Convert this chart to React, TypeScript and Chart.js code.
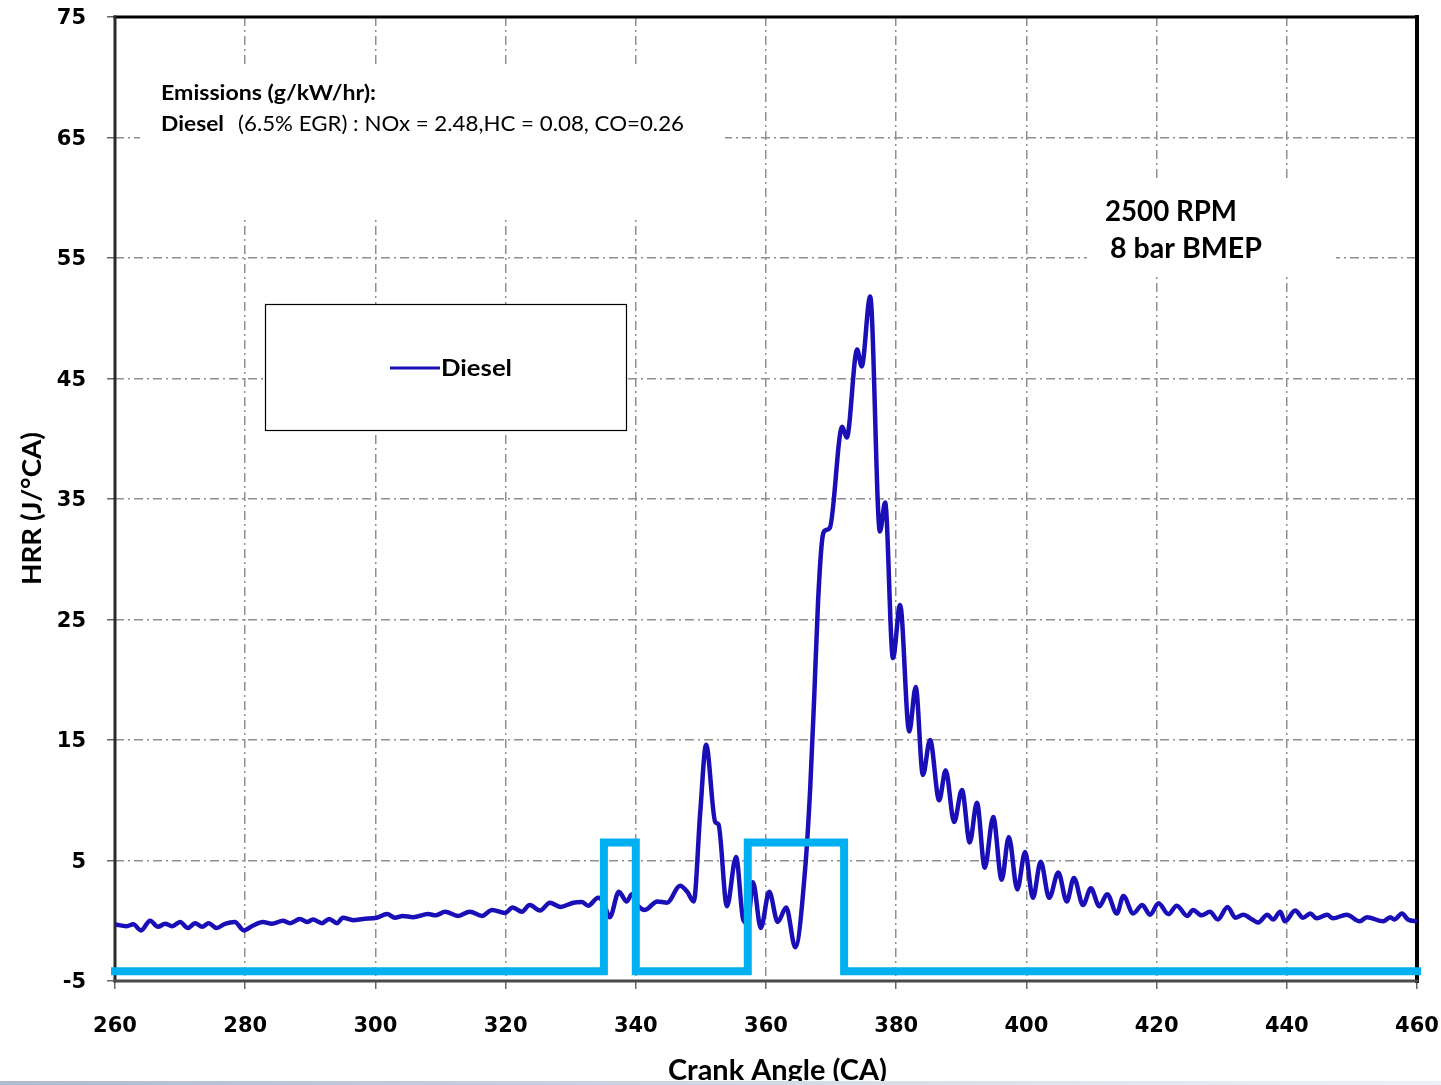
import React, { useEffect, useRef } from "react";
import { Chart, registerables } from "chart.js";

Chart.register(...registerables);

// Heat release rate, J/°CA, against crank angle
const crankAngle = [
  260.0, 261.8, 262.8, 264.0, 265.4, 266.6, 267.7, 268.8, 270.0, 271.2,
  272.3, 273.4, 274.4, 275.6, 276.9, 278.4, 279.8, 281.2, 282.7, 284.1,
  285.8, 286.9, 288.4, 289.5, 290.4, 291.8, 292.9, 294.1, 295.0, 296.6,
  298.1, 300.2, 301.8, 303.0, 304.2, 305.8, 308.1, 309.3, 310.7, 312.7,
  314.5, 316.4, 317.9, 319.9, 321.1, 322.5, 323.7, 325.3, 326.8, 328.4,
  330.4, 331.7, 332.7, 334.2, 335.0, 336.0, 337.4, 338.6, 339.4, 340.4,
  341.4, 343.3, 344.8, 346.8, 347.9, 348.9, 349.9, 350.8, 352.2, 352.7,
  354.0, 355.4, 356.5, 357.2, 358.0, 359.2, 360.5, 361.8, 363.1, 364.5,
  366.0, 366.8, 367.4, 368.0, 368.6, 369.1, 369.8, 371.7, 372.4, 374.0,
  374.7, 376.0, 377.5, 378.3, 379.5, 380.6, 382.0, 383.0, 384.1, 385.2,
  386.6, 387.6, 388.9, 390.1, 391.3, 392.4, 393.6, 394.9, 396.2, 397.3,
  398.6, 399.8, 401.0, 402.2, 403.5, 404.9, 406.2, 407.3, 408.7, 409.9,
  411.2, 412.4, 413.9, 414.9, 416.4, 417.8, 419.0, 420.3, 421.8, 423.1,
  424.7, 425.6, 426.9, 428.2, 429.4, 430.9, 432.1, 433.3, 434.7, 435.6,
  437.0, 437.9, 439.0, 439.7, 441.3, 442.5, 443.6, 444.6, 446.2, 447.1,
  449.2, 451.2, 452.3, 454.8, 455.9, 456.5, 457.7, 458.6, 460.0,
];

const hrrDiesel = [
  -0.3, -0.45, -0.3, -0.8, 0.0, -0.5, -0.25, -0.45, -0.1, -0.6,
  -0.2, -0.5, -0.2, -0.6, -0.25, -0.1, -0.8, -0.4, -0.1, -0.25,
  0.0, -0.2, 0.15, -0.1, 0.1, -0.2, 0.15, -0.2, 0.25, 0.05,
  0.15, 0.25, 0.55, 0.25, 0.4, 0.3, 0.55, 0.45, 0.75, 0.4,
  0.75, 0.4, 0.9, 0.65, 1.1, 0.75, 1.3, 0.85, 1.5, 1.15,
  1.5, 1.55, 1.25, 1.9, 1.6, 0.3, 2.4, 1.6, 2.2, 1.2,
  0.9, 1.6, 1.5, 2.9, 2.4, 1.6, 9.0, 14.6, 8.2, 8.0,
  1.2, 5.3, 0.1, -0.2, 3.2, -0.6, 2.4, -0.1, 1.1, -2.2,
  4.2, 11.1, 18.5, 26.5, 31.5, 32.4, 32.6, 41.0, 40.1, 47.4,
  46.0, 51.8, 32.3, 34.7, 21.8, 26.2, 15.7, 19.4, 12.1, 15.0,
  10.0, 12.5, 8.2, 10.85, 6.5, 9.8, 4.4, 8.6, 3.4, 6.95,
  2.6, 5.7, 1.9, 4.9, 1.9, 4.0, 1.6, 3.55, 1.3, 2.7,
  1.2, 2.2, 0.6, 2.05, 0.6, 1.3, 0.5, 1.45, 0.55, 1.25,
  0.4, 0.9, 0.45, 0.75, 0.1, 1.15, 0.25, 0.5, 0.1, -0.15,
  0.5, 0.1, 0.75, -0.05, 0.85, 0.25, 0.6, 0.2, 0.5, 0.2,
  0.5, -0.05, 0.3, -0.05, 0.3, 0.1, 0.6, 0.1, -0.05,
];

// Injector signal (pilot and main pulses)
const injectionAngle = [260, 335.1, 335.1, 340.0, 340.0, 357.2, 357.2, 372.0, 372.0, 460];
const injectionSignal = [-4.2, -4.2, 6.5, 6.5, -4.2, -4.2, 6.5, 6.5, -4.2, -4.2];

const xTickValues = [260, 280, 300, 320, 340, 360, 380, 400, 420, 440, 460];
const yTickValues = [-5, 5, 15, 25, 35, 45, 55, 65, 75];

const seriesName = "Diesel";
const xTitle = "Crank Angle (CA)";
const yTitle = "HRR (J/°CA)";
const emissionsHeading = "Emissions (g/kW/hr):";
const emissionsFuel = "Diesel";
const emissionsValues = "(6.5% EGR) : NOx = 2.48,HC = 0.08, CO=0.26";
const operatingPoint = ["2500 RPM", "8 bar BMEP"];

const HRR_COLOR = "#1a0fb6";
const INJ_COLOR = "#00b0f0";
const GRID_COLOR = "#8f8f8f";
const TICK_FONT = { family: "'DejaVu Sans'", weight: "bold" as const, size: 21 };

// Draws text stretched or squeezed to an exact width.
function fitText(
  ctx: CanvasRenderingContext2D,
  text: string,
  x: number,
  y: number,
  width: number,
  font: string
) {
  ctx.save();
  ctx.font = font;
  ctx.textAlign = "left";
  ctx.textBaseline = "alphabetic";
  const w = ctx.measureText(text).width;
  ctx.translate(x, y);
  ctx.scale(width / w, 1);
  ctx.fillText(text, 0, 0);
  ctx.restore();
}

const decorPlugin = {
  id: "decor",
  beforeDatasetsDraw(chart: Chart) {
    const { ctx, chartArea: a } = chart;
    ctx.save();

    // white panels that sit over the grid
    ctx.fillStyle = "#ffffff";
    ctx.fillRect(140, 67, 585, 153);
    ctx.fillRect(1087, 182, 249, 93);
    ctx.fillRect(265, 304, 362, 127);
    ctx.strokeStyle = "#000000";
    ctx.lineWidth = 1.2;
    ctx.strokeRect(265.5, 304.5, 361, 126);

    // plot frame
    ctx.lineCap = "square";
    ctx.strokeStyle = "#000000";
    ctx.lineWidth = 3;
    ctx.beginPath();
    ctx.moveTo(a.left, a.top);
    ctx.lineTo(a.right, a.top);
    ctx.stroke();
    ctx.lineWidth = 4;
    ctx.beginPath();
    ctx.moveTo(a.right, a.top);
    ctx.lineTo(a.right, a.bottom);
    ctx.stroke();
    ctx.strokeStyle = "#2a2a2a";
    ctx.lineWidth = 3;
    ctx.beginPath();
    ctx.moveTo(a.left, a.top);
    ctx.lineTo(a.left, a.bottom);
    ctx.stroke();
    ctx.strokeStyle = "#4a4a4a";
    ctx.beginPath();
    ctx.moveTo(a.left, a.bottom);
    ctx.lineTo(a.right, a.bottom);
    ctx.stroke();

    // notes
    ctx.fillStyle = "#000000";
    fitText(ctx, emissionsHeading, 161, 100, 215, "bold 21px Lato");
    fitText(ctx, emissionsFuel, 161, 131, 63, "bold 21px Lato");
    fitText(ctx, emissionsValues, 238, 131, 446, "21px Lato");
    fitText(ctx, operatingPoint[0], 1105, 221, 132, "bold 28px Lato");
    fitText(ctx, operatingPoint[1], 1110, 258, 152, "bold 28px Lato");

    // legend
    ctx.strokeStyle = HRR_COLOR;
    ctx.lineWidth = 3;
    ctx.lineCap = "butt";
    ctx.beginPath();
    ctx.moveTo(390, 368);
    ctx.lineTo(440, 368);
    ctx.stroke();
    fitText(ctx, seriesName, 441, 376, 71, "bold 23px Lato");

    // axis titles
    fitText(ctx, xTitle, 668, 1080, 219, "bold 29px Lato");
    ctx.save();
    ctx.translate(41, 585);
    ctx.rotate(-Math.PI / 2);
    fitText(ctx, yTitle, 0, 0, 153, "bold 26px Lato");
    ctx.restore();

    // soft strip along the foot of the figure
    const g = ctx.createLinearGradient(0, 0, 1441, 0);
    g.addColorStop(0, "#aebbd0");
    g.addColorStop(0.6, "#d5dde8");
    g.addColorStop(1, "#eef2f7");
    ctx.fillStyle = g;
    ctx.fillRect(0, 1081, 1441, 4);

    ctx.restore();
  },
};

export default function App() {
  const canvasRef = useRef<HTMLCanvasElement | null>(null);

  useEffect(() => {
    document.body.style.margin = "0";
    const canvas = canvasRef.current;
    if (!canvas) return;

    const hrrPoints = crankAngle.map((x, i) => ({ x, y: hrrDiesel[i] }));
    const injPoints = injectionAngle.map((x, i) => ({ x, y: injectionSignal[i] }));

    const chart = new Chart(canvas, {
      type: "line",
      data: {
        datasets: [
          {
            label: "Injection",
            data: injPoints,
            borderColor: INJ_COLOR,
            borderWidth: 8,
            pointRadius: 0,
            tension: 0,
            borderJoinStyle: "miter",
            borderCapStyle: "square",
            clip: false as any,
            order: 0,
          },
          {
            label: seriesName,
            data: hrrPoints,
            borderColor: HRR_COLOR,
            borderWidth: 4.5,
            pointRadius: 0,
            cubicInterpolationMode: "monotone",
            order: 1,
          },
        ],
      },
      options: {
        animation: false,
        responsive: false,
        events: [],
        layout: { padding: { top: 17, right: 24, left: 0, bottom: 0 } },
        plugins: {
          legend: { display: false },
          tooltip: { enabled: false },
        },
        scales: {
          x: {
            type: "linear",
            min: 260,
            max: 460,
            afterBuildTicks: (s: any) => {
              s.ticks = xTickValues.map((v) => ({ value: v }));
            },
            afterFit: (s: any) => {
              s.height = 104;
              s.paddingLeft = 0;
              s.paddingRight = 0;
            },
            ticks: {
              font: TICK_FONT,
              color: "#000",
              padding: 25,
              maxRotation: 0,
              autoSkip: false,
            },
            grid: {
              color: (c: any) =>
                c.tick && (c.tick.value === 260 || c.tick.value === 460) ? "rgba(0,0,0,0)" : GRID_COLOR,
              lineWidth: 1.5,
              drawTicks: true,
              tickLength: 8,
              tickColor: "#666",
              tickWidth: 1.5,
              tickBorderDash: [],
            },
            border: { display: false, dash: [9, 4, 2, 4] },
          },
          y: {
            type: "linear",
            min: -5,
            max: 75,
            afterBuildTicks: (s: any) => {
              s.ticks = yTickValues.map((v) => ({ value: v }));
            },
            afterFit: (s: any) => {
              s.width = 115;
              s.paddingTop = 0;
              s.paddingBottom = 0;
            },
            ticks: {
              font: TICK_FONT,
              color: "#000",
              padding: 21,
              labelOffset: 2,
              autoSkip: false,
            },
            grid: {
              color: (c: any) =>
                c.tick && (c.tick.value === -5 || c.tick.value === 75) ? "rgba(0,0,0,0)" : GRID_COLOR,
              lineWidth: 1.5,
              drawTicks: true,
              tickLength: 8,
              tickColor: "#666",
              tickWidth: 1.5,
              tickBorderDash: [],
            },
            border: { display: false, dash: [9, 4, 2, 4] },
          },
        },
      },
      plugins: [decorPlugin],
    });

    return () => chart.destroy();
  }, []);

  return (
    <div style={{ width: 1441, height: 1085, background: "#fff" }}>
      <canvas ref={canvasRef} width={1441} height={1085} style={{ display: "block" }} />
    </div>
  );
}
